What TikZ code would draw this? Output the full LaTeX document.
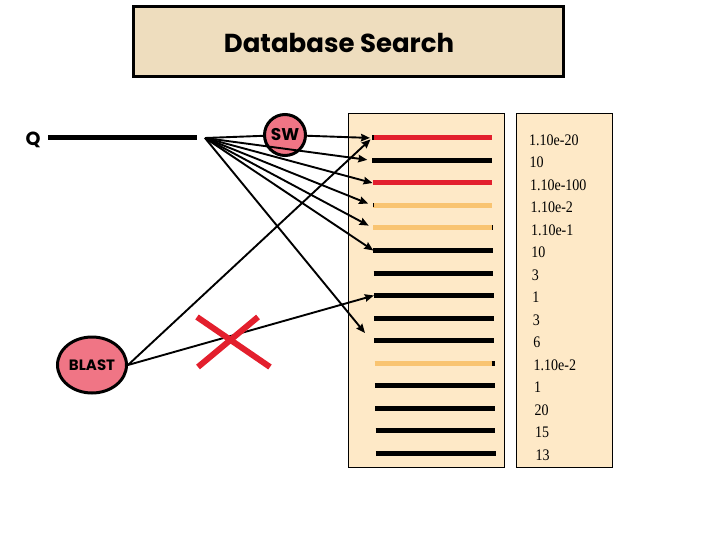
\documentclass[tikz,border=0pt]{standalone}
\usepackage{fontspec}
\setmainfont{Liberation Serif}
\newfontfamily\comicfont{Poppins}
\usetikzlibrary{arrows.meta,positioning,shapes.geometric}
\definecolor{parch}{HTML}{EEDDBE}
\definecolor{peach}{HTML}{FEE9C7}
\definecolor{rosy}{HTML}{F07585}
\definecolor{hitred}{HTML}{E31F2D}
\definecolor{hitamber}{HTML}{F9C471}
\tikzset{
  ttlbox/.style={draw=black,line width=3pt,fill=parch},
  ttl/.style={font=\comicfont\bfseries\fontsize{26}{30}\selectfont,inner sep=0pt},
  panel/.style={draw=black,line width=1pt,fill=peach},
  seq/.style={line width=5pt},
  tool/.style={draw=black,line width=3pt,fill=rosy,inner sep=0pt,
               font=\comicfont\bfseries\fontsize{15}{18}\selectfont},
  lbl/.style={font=\comicfont\bfseries\fontsize{19}{22}\selectfont,inner sep=0pt},
  arr/.style={-{Stealth[length=9pt,width=7.5pt,inset=1pt]},line width=1.9pt},
  cross/.style={line width=6pt,draw=hitred},
  val/.style={anchor=west,inner sep=0pt,font=\fontsize{14}{16}\selectfont},
}
\begin{document}
\begin{tikzpicture}[x=1pt,y=-1pt]
  \useasboundingbox (0,0) rectangle (720,540);
  \draw[ttlbox] (133.5,6.5) rectangle (563.5,76.5);
  \node[ttl] (title) at (339,43) {Database Search};

  \draw[panel] (348,114) rectangle (504,467);
  \draw[panel] (516,114) rectangle (612,467);

  \foreach \i/\col/\val in {
    1/hitred/1.10e-20,
    2/black/10,
    3/hitred/1.10e-100,
    4/hitamber/1.10e-2,
    5/hitamber/1.10e-1,
    6/black/10,
    7/black/3,
    8/black/1,
    9/black/3,
    10/black/6,
    11/hitamber/1.10e-2,
    12/black/1,
    13/black/20,
    14/black/15,
    15/black/13}{
    \coordinate (r\i) at ({372+0.27*(\i-1)},{138+22.5*(\i-1)});
    \coordinate (e\i) at ({491.5+0.3*(\i-1)},{138+22.5*(\i-1)});
    \draw[seq,draw=\col] (r\i) -- (e\i);
    \node[val] (v\i) at ({529+0.45*(\i-1)},{140+22.5*(\i-1)}) {\scalebox{1}[1.15]{\val}};
  }
  \draw[seq] (r1) -- ([xshift=2pt]r1);
  \draw[line width=1pt] ([xshift=0.5pt,yshift=2pt]r4) -- ([xshift=0.5pt,yshift=-2pt]r4);
  \draw[line width=1pt] ([xshift=-0.5pt,yshift=2.5pt]e5) -- ([xshift=-0.5pt,yshift=-2.5pt]e5);
  \draw[seq] ([xshift=-3pt]e11) -- (e11);

  \node[lbl] (q) at (33,140) {Q};
  \coordinate (qs) at (48,137.5);
  \coordinate (qe) at (197,137.5);
  \draw[line width=5.5pt] (qs) -- (qe);

  \coordinate (fan) at (205,138);
  \coordinate (miss) at (365,333);
  \node[tool,circle,minimum size=41pt,font=\comicfont\bfseries\fontsize{17}{20}\selectfont] (sw) at (285,135) {SW};
  \node[tool,ellipse,minimum width=69pt,minimum height=56pt] (blast) at (92,365) {BLAST};

  \draw[line width=1.9pt] (fan) -- (sw);
  \draw[arr,shorten >=2pt] (sw) -- (r1);
  \draw[arr,shorten >=5pt] (fan) -- (r2);
  \draw[arr] (fan) -- (r3);
  \draw[arr,shorten >=5pt] (fan) -- (r4);
  \draw[arr,shorten >=5pt] (fan) -- (r5);
  \draw[arr] (fan) -- (r6);
  \draw[arr] (fan) -- (miss);
  \draw[arr,shorten >=2pt] (blast.east) -- (r1);
  \draw[arr] (blast.east) -- (r8);

  \draw[cross] (197,317) -- (270,367);
  \draw[cross] (258,317) -- (198,367);
\end{tikzpicture}
\end{document}
